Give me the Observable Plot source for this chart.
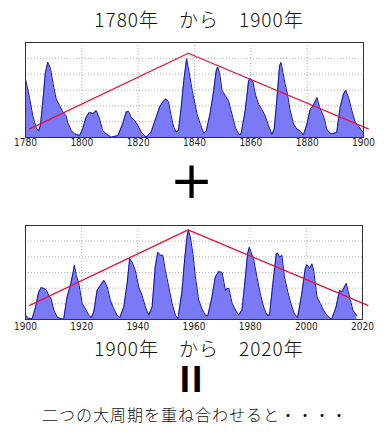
<!DOCTYPE html>
<html>
<head>
<meta charset="utf-8">
<script src="https://cdn.jsdelivr.net/npm/d3@7"></script>
<script src="https://cdn.jsdelivr.net/npm/@observablehq/plot@0.6"></script>
<style>
  html, body { margin: 0; padding: 0; background: #fff; }
  #wrap { position: relative; width: 392px; height: 435px; overflow: hidden; background: #fff; }
  .t { position: absolute; left: 0; width: 392px; text-align: center; white-space: nowrap; color: #111;
       font-family: "Noto Sans CJK JP", "Noto Sans", sans-serif; box-sizing: border-box; }
  .title { font-size: 19px; line-height: 19px; letter-spacing: 1px; font-weight: 300; padding-left: 6px; }
  .cap { font-size: 16px; line-height: 16px; letter-spacing: 1px; font-weight: 300; padding-right: 2px; }
  .plus { font-family: "DejaVu Sans", sans-serif; font-size: 52px; line-height: 52px; color: #000; padding-right: 9px; }
  .eq { font-family: "Liberation Sans", Arial, sans-serif; font-weight: bold; font-size: 37px; line-height: 37px; letter-spacing: 2px; color: #000; padding-right: 8px; }
  .panel { position: absolute; left: 0; }
</style>
</head>
<body>
<div id="wrap">
  <div class="t title" style="top:9px">1780年　から　1900年</div>
  <div class="panel" id="p1" style="top:37px"></div>
  <div class="t plus" style="top:154px">+</div>
  <div class="panel" id="p2" style="top:220px"></div>
  <div class="t title" style="top:338px">1900年　から　2020年</div>
  <div class="t eq" style="top:361px">II</div>
  <div class="t cap" style="top:406px">二つの大周期を重ね合わせると・・・・</div>
</div>
<script>
// Panel 1: 1780-1900 (smoothed sunspot number)
const years1 = [1780,1781.4,1782.6,1783.8,1784.6,1785.3,1786.2,1787,1787.9,1788.9,1790,1790.9,1792.1,1793.3,1794.4,1795,1796.2,1797.4,1799.2,
  1800.3,1801.5,1802.7,1803.9,1805.1,1806.3,1807.4,1808.6,1810.4,1812.8,1814.5,1815.7,1816.6,1817.5,1818.7,1819.9,1821.1,1822.8,1824.6,
  1826.4,1827.6,1828.7,1829.9,1830.8,1831.7,1832.6,1833.5,1834.3,1835.3,1836.2,1837.2,1838.2,1839.2,1840.9,1842.1,1843.3,1844.2,
  1845.6,1846.8,1847.7,1848.2,1848.9,1849.8,1851,1852.1,1853.3,1854.5,1855.7,1856.5,1858,1859.2,1859.8,1860.8,1861.6,1862.8,1863.9,1865.1,
  1866.3,1867.5,1868.3,1869.3,1870.2,1870.7,1871.4,1872.2,1873,1874,1875.2,1876.4,1877.5,1878.7,1879.9,1881.1,1882.3,1883.5,1884.4,1885.8,
  1887,1888.2,1889.4,1890.5,1891.7,1892.9,1893.7,1894.7,1895.9,1897.1,1898.2,1899.4,1900];
const values1 = [185,127,69,31,20,38,117,201,238,217,159,122,101,80,69,48,22,12,6,
  27,64,80,75,85,59,22,12,1,6,43,80,83,64,54,38,17,1,17,
  64,96,112,122,112,69,33,17,22,96,180,249,201,148,74,42,13,21,
  79,147,210,223,205,147,132,116,74,32,10,10,84,179,187,174,137,105,89,68,
  37,10,26,126,226,237,205,168,137,84,42,26,21,8,42,89,103,126,95,68,
  26,13,13,16,95,137,149,126,84,47,37,21,16];

// Panel 2: 1900-2020
const years2 = [1900,1901.2,1902.4,1903.6,1904.7,1905.6,1906.5,1907.4,1908.3,1909.1,1910.1,1911.3,1912.5,1913.6,
  1914.8,1916,1917,1917.4,1918.1,1919,1920.2,1921.3,1922.5,1923.4,1924.3,1925.5,1926.7,1927.9,1929.1,1930.2,1931.4,1932.6,1933.6,
  1935,1936.2,1937.1,1938,1939.1,1940.3,1941.5,1942.7,1943.9,1945.1,1946.2,1947.1,1948,1948.9,1949.8,1951,1952.2,1953.4,1954.3,
  1955.7,1956.7,1957.5,1958,1958.7,1959.6,1960.5,1961.7,1962.8,1964,1964.9,1966.4,1967.6,1968.8,1970,1971.2,1971.8,1972.4,1973.6,1974.8,1975.9,
  1977.1,1978.3,1979.1,1979.7,1980.3,1981.2,1982.4,1983.6,1984.8,1986,1986.9,1988.1,1989.3,1989.8,1990.5,1991.3,1992.2,1993.4,1994.5,1995.7,1996.9,
  1998.4,1999.6,2000.2,2001.2,2002,2002.6,2003.8,2005,2006.1,2007.3,2008.5,2009.1,2010.6,2011.8,2012.7,2014.2,2015.4,2016.6,2018];
const values2 = [14,3,3,40,88,102,99,95,77,67,30,8,3,1,
  72,109,152,173,141,115,51,35,14,6,24,93,109,125,104,62,35,14,6,
  40,115,194,183,157,104,77,40,14,40,168,215,205,205,157,104,51,14,3,
  88,194,263,286,263,210,136,62,35,14,11,72,136,153,150,93,99,99,51,30,14,
  30,136,210,231,215,194,136,83,40,14,14,115,210,212,199,205,136,88,51,19,6,
  83,162,175,162,178,157,72,51,30,14,3,2,40,93,88,115,72,30,12];

// Red trend lines (V shapes)
const trendYears1 = [1781.5, 1837.8, 1901.7];
const trendValues1 = [27, 266, 27];
const trendYears2 = [1901.5, 1957.9, 2021.9];
const trendValues2 = [45, 286, 45];

const xTicks1 = [1780, 1800, 1820, 1840, 1860, 1880, 1900];
const xTicks2 = [1900, 1920, 1940, 1960, 1980, 2000, 2020];
const yGrid = [50, 100, 150, 200, 250];

function panel(years, values, tYears, tValues, ticks, o) {
  const data = years.map((y, i) => ({year: y, value: values[i]}));
  const trend = tYears.map((y, i) => ({year: y, value: tValues[i]}));
  return Plot.plot({
    width: 392,
    height: o.height,
    marginLeft: 25,
    marginRight: o.mr,
    marginTop: 5,
    marginBottom: o.height - 5 - o.inner,
    style: {fontFamily: '"Liberation Sans Narrow", "DejaVu Sans Condensed", sans-serif', fontSize: "10px", color: "#222", background: "transparent", overflow: "visible"},
    x: {domain: [ticks[0], ticks[ticks.length - 1]], ticks: ticks, tickSize: 0, tickPadding: o.pad, tickFormat: d => String(d), label: null},
    y: {domain: [0, 300], axis: null},
    marks: [
      Plot.ruleY(yGrid, {stroke: "#999", strokeDasharray: "1,2", strokeWidth: 0.8}),
      Plot.ruleX(ticks.slice(1, -1), {stroke: "#999", strokeDasharray: "1,2", strokeWidth: 0.8}),
      Plot.areaY(data, {x: "year", y: "value", fill: "#7a7af6"}),
      Plot.lineY(data, {x: "year", y: "value", stroke: "#14149e", strokeWidth: 1}),
      Plot.line(trend, {x: "year", y: "value", stroke: "#e8143c", strokeWidth: 1.3}),
      Plot.frame({stroke: "#333", strokeWidth: 1})
    ]
  });
}

document.getElementById("p1").appendChild(
  panel(years1, values1, trendYears1, trendValues1, xTicks1, {height: 118, inner: 95, mr: 29, pad: 1}));
document.getElementById("p2").appendChild(
  panel(years2, values2, trendYears2, trendValues2, xTicks2, {height: 117, inner: 94, mr: 30, pad: 3}));
</script>
</body>
</html>
